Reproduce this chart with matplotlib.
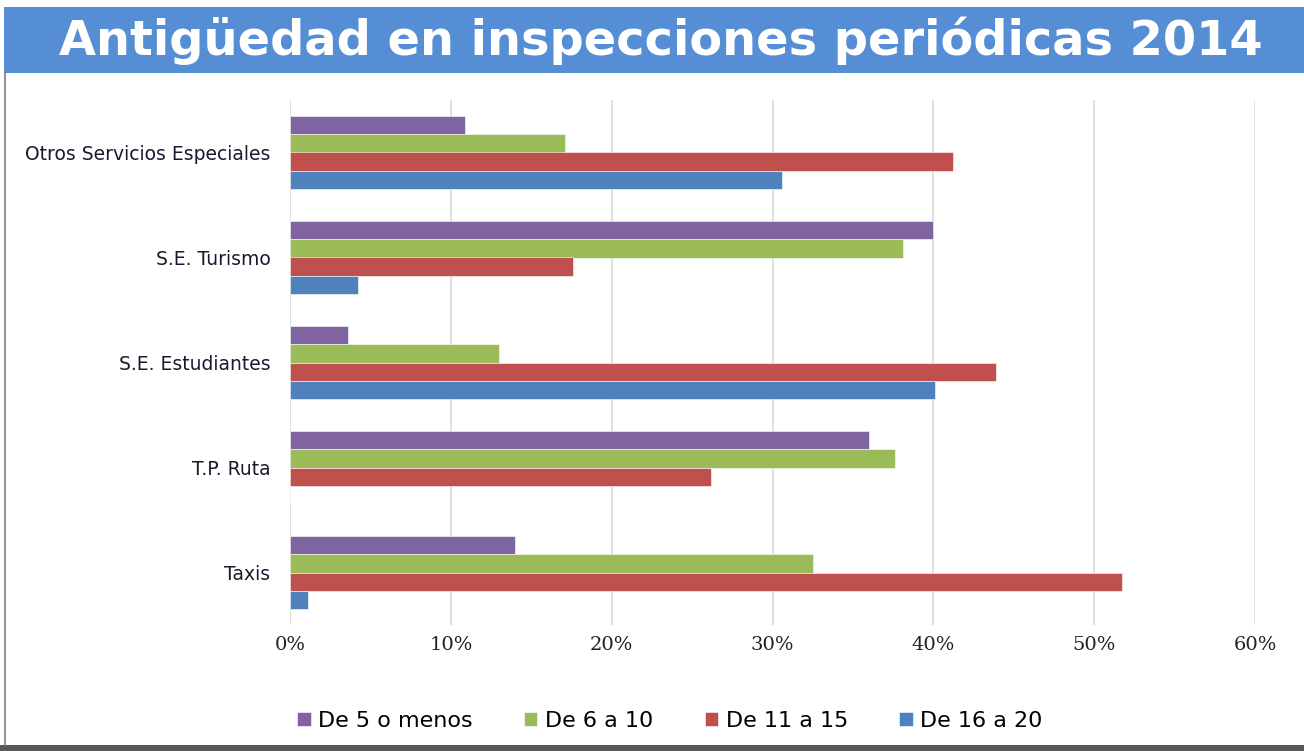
import matplotlib.pyplot as plt
from matplotlib.patches import Rectangle
from matplotlib.lines import Line2D
import numpy as np

# data (percent)
categories = ["Taxis", "T.P. Ruta", "S.E. Estudiantes", "S.E. Turismo", "Otros Servicios Especiales"]
series_names = ["De 5 o menos", "De 6 a 10", "De 11 a 15", "De 16 a 20"]
de_5_o_menos = [14.0, 36.0, 3.6, 40.0, 10.9]
de_6_a_10 = [32.5, 37.6, 13.0, 38.1, 17.1]
de_11_a_15 = [51.7, 26.2, 43.9, 17.6, 41.2]
de_16_a_20 = [1.1, 0.0, 40.1, 4.2, 30.6]
xticks = [0, 10, 20, 30, 40, 50, 60]

colors = ["#8064A2", "#9BBB59", "#C0504D", "#4F81BD"]
series = [de_5_o_menos, de_6_a_10, de_11_a_15, de_16_a_20]

fig = plt.figure(figsize=(13.04, 7.51), dpi=100)
W, H = 1304, 751

# title band
fig.patches.append(Rectangle((4 / W, 1 - 73 / H), 1, 66 / H, transform=fig.transFigure,
                             facecolor="#558ED5", edgecolor="none"))
fig.text(661 / W, 1 - 41 / H, "Antigüedad en inspecciones periódicas 2014", color="white",
         fontsize=34.5, fontweight="bold", ha="center", va="center", family="DejaVu Sans")
# left frame line and bottom dark band
fig.lines.append(Line2D([4.5 / W, 4.5 / W], [6 / H, 1 - 73 / H], transform=fig.transFigure,
                        color="#7F7F7F", lw=1.2))
fig.patches.append(Rectangle((0, 0), 1, 6 / H, transform=fig.transFigure,
                             facecolor="#595959", edgecolor="none"))

ax = fig.add_axes([290 / W, 1 - 625 / H, (1255 - 290) / W, 525 / H])
y = np.arange(len(categories))
h = 0.172
offsets = [1.5 * h, 0.5 * h, -0.5 * h, -1.5 * h]
for vals, c, off, name in zip(series, colors, offsets, series_names):
    ax.barh(y + off, vals, height=h, color=c, label=name, edgecolor="white", linewidth=0.4, zorder=3)

ax.set_xlim(0, 60)
ax.set_ylim(-0.5, len(categories) - 0.5)
ax.set_xticks(xticks)
ax.set_xticklabels([f"{t}%" for t in xticks], family="DejaVu Serif", fontsize=14, color="#222222")
ax.set_yticks(y)
ax.set_yticklabels(categories, fontsize=13.5, color="#1a1a2e")
ax.tick_params(axis="x", length=0, pad=8)
ax.tick_params(axis="y", length=0, pad=14)
ax.grid(axis="x", color="#D9D9D9", lw=1.2, zorder=0)
for s in ax.spines.values():
    s.set_visible(False)

handles, labels = ax.get_legend_handles_labels()
fig.legend(handles, labels, loc="center", bbox_to_anchor=(670 / W, 1 - 721 / H), ncol=4,
           frameon=False, fontsize=16, handlelength=0.6, handleheight=0.6,
           handletextpad=0.35, columnspacing=2.3)

fig.savefig("out.png", dpi=100)
